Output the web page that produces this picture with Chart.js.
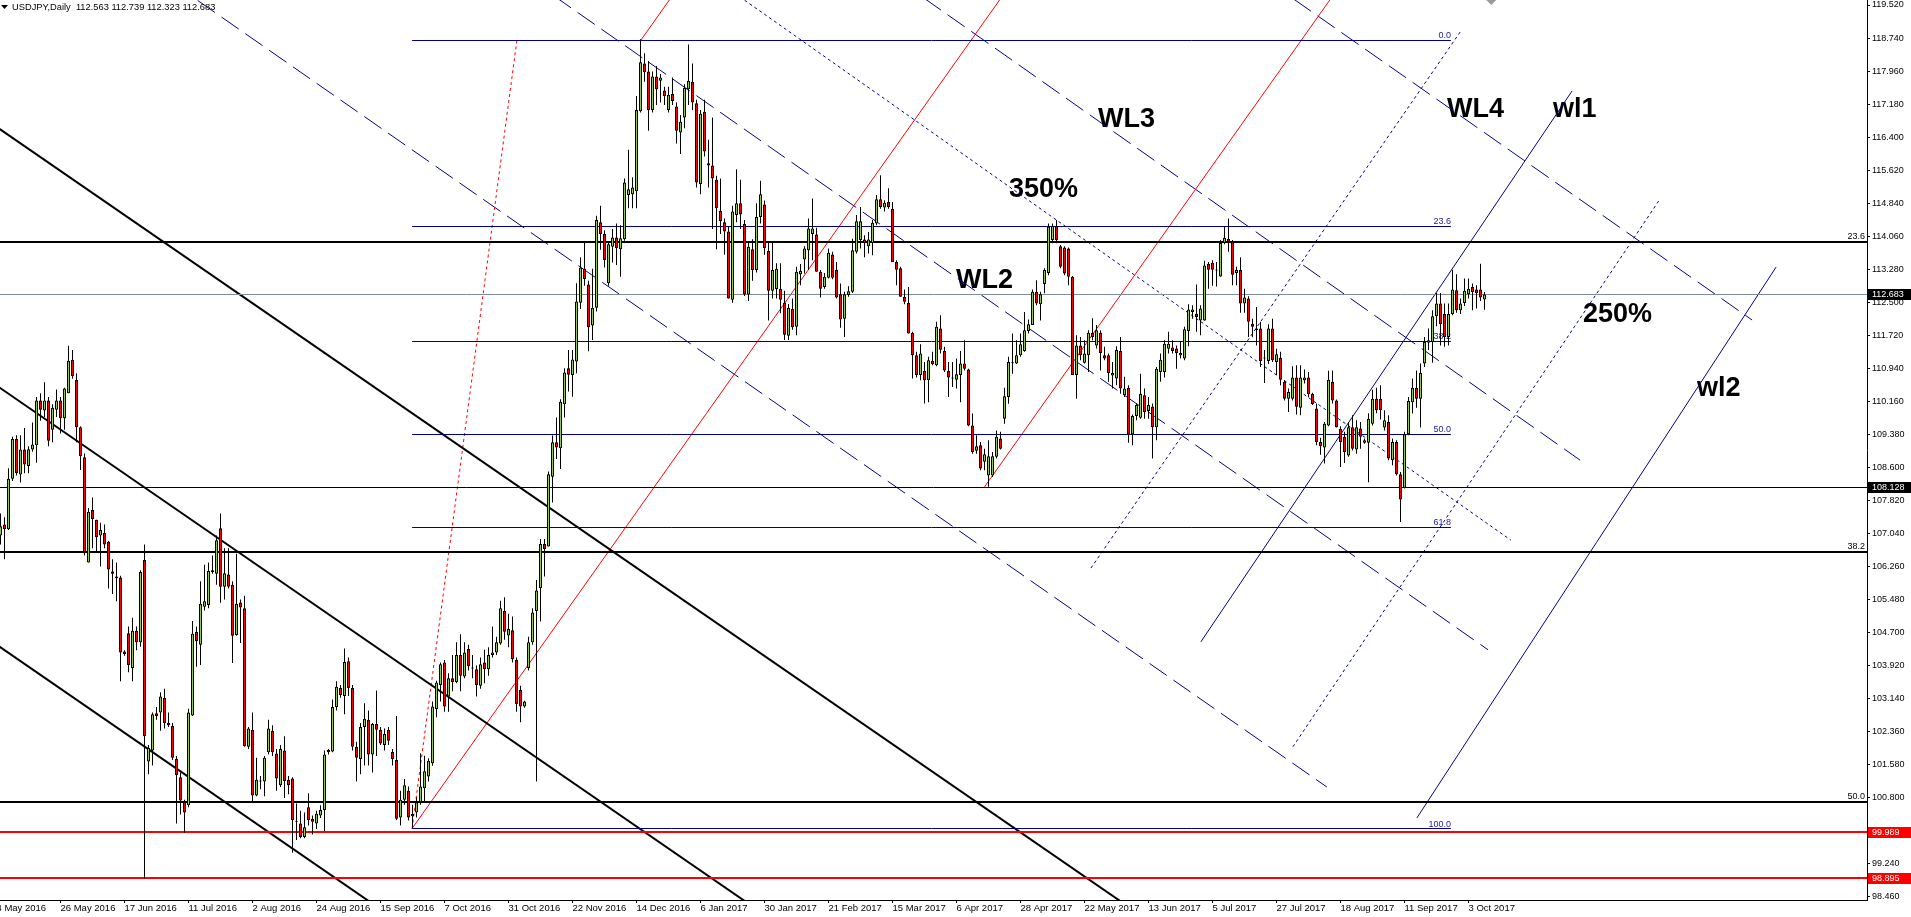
<!DOCTYPE html>
<html>
<head>
<meta charset="utf-8">
<script src="https://cdn.jsdelivr.net/npm/chart.js@4.4.1/dist/chart.umd.min.js"></script>
<style>
html,body{margin:0;padding:0;background:#fff;overflow:hidden}
#c{display:block;background:#fff}
</style>
</head>
<body>
<canvas id="c" width="1911" height="917"></canvas>
<script>
// ---------------- DATA ----------------
const symbolName = 'USDJPY,Daily';

const opens = [
106.99,107.25,107.14,108.33,109.27,108.43,109.02,108.63,109.02,109.12,
110.18,109.94,110.18,109.49,109.96,110.18,109.76,110.35,111.14,110.67,
109.55,108.84,106.35,107.59,107.36,106.99,107.05,106.84,106.14,106.02,
106.00,104.25,104.68,103.86,104.74,104.47,106.41,101.65,101.91,102.79,
102.81,103.16,102.57,102.49,101.71,101.28,100.70,100.62,102.74,104.71,
104.41,105.31,105.35,106.17,106.09,107.16,105.78,106.07,105.83,104.64,
105.41,105.27,102.00,102.40,100.85,101.20,101.18,101.87,102.38,101.84,
101.09,101.91,101.22,101.25,100.25,100.19,99.87,100.57,100.30,100.19,
100.38,100.51,101.93,101.89,102.94,103.39,103.20,104.02,103.39,102.00,
101.71,102.47,102.64,101.82,102.54,102.40,102.04,102.40,101.88,101.69,
100.33,100.75,100.96,100.41,100.45,100.69,101.02,101.30,101.61,102.89,
103.46,103.99,103.19,103.62,103.53,104.17,103.66,104.31,103.87,103.83,
103.44,103.99,103.83,104.17,104.23,104.44,105.21,104.63,104.75,104.05,
103.34,102.95,103.86,104.47,105.21,105.75,106.79,106.73,108.38,109.19,
109.05,110.09,110.94,110.78,111.10,112.49,113.29,112.92,111.95,112.37,
114.39,114.11,112.95,113.81,114.03,113.75,113.99,115.03,115.05,115.12,
117.01,118.14,117.95,117.04,117.83,117.73,117.50,117.04,117.42,117.12,
116.51,116.86,117.53,117.71,117.20,115.29,117.00,115.78,115.73,115.39,
114.66,114.39,114.17,112.56,114.56,114.84,114.35,112.68,113.75,113.26,
114.51,114.81,113.71,112.77,112.81,112.81,112.49,111.71,112.34,111.92,
113.16,113.51,113.73,114.11,114.10,113.22,112.86,113.08,113.63,113.27,
112.69,112.11,112.67,112.75,113.69,113.97,113.98,113.82,113.90,114.36,
114.93,114.74,114.87,114.71,113.45,113.30,112.63,112.49,111.78,111.25,
110.78,110.88,110.66,111.12,111.01,111.88,111.35,110.88,110.72,110.67,
110.78,111.05,110.91,109.59,108.99,109.12,108.73,108.41,108.41,108.85,
109.28,109.75,110.26,111.06,111.05,111.25,111.35,111.82,111.96,112.75,
112.45,112.93,113.19,113.97,114.30,113.82,113.79,113.77,113.10,110.78,
111.48,111.07,111.25,111.78,111.48,111.78,111.25,111.25,110.77,110.70,
111.35,110.30,110.48,109.38,109.81,109.77,110.30,109.93,110.04,109.55,
110.85,110.85,111.40,111.43,111.41,111.25,111.17,111.82,112.27,112.23,
112.07,112.07,113.41,113.43,113.27,113.11,113.90,114.00,113.93,113.19,
113.26,112.47,112.59,111.99,111.88,111.88,111.19,111.11,111.88,111.09,
111.19,110.62,110.22,110.22,110.72,110.01,110.66,110.72,110.33,109.99,
109.20,109.07,109.59,110.62,110.18,109.51,109.32,108.88,109.55,109.02,
109.52,109.18,109.18,109.63,110.22,110.22,109.54,109.67,108.77,109.20,
108.44,108.12,109.38,110.14,110.48,110.22,111.05,111.54,111.56,112.17,
112.47,112.22,111.68,112.22,112.78,112.31,112.48,112.69,112.86,112.80,
112.80,112.563];

const highs = [
107.51,107.42,108.58,109.32,109.36,109.36,109.53,109.10,109.66,110.26,
110.35,110.61,110.26,110.09,110.44,110.26,110.48,111.47,111.37,110.82,
109.57,108.93,107.64,107.89,107.36,107.29,107.25,106.86,106.43,106.35,
106.04,104.28,104.84,105.05,104.84,106.17,106.78,102.04,102.81,102.94,
103.29,103.37,102.81,102.56,101.78,101.39,100.75,102.90,104.97,104.84,
105.91,106.30,106.35,106.52,106.99,107.51,106.69,106.69,105.91,106.56,
105.48,105.57,102.47,102.81,101.74,101.31,101.78,102.64,102.51,101.95,
102.04,102.25,101.31,101.28,100.66,100.49,100.45,100.90,100.38,100.49,
100.62,101.91,101.95,103.12,103.55,103.46,104.32,104.11,103.46,102.12,
102.56,103.03,102.86,102.56,103.33,102.47,102.43,102.47,101.95,102.73,
100.96,101.24,101.06,100.63,100.81,101.85,101.79,101.73,103.07,103.56,
103.99,104.05,103.74,104.17,104.47,104.66,104.47,104.41,104.17,103.92,
104.11,104.29,104.35,104.84,104.60,105.45,105.53,105.14,105.08,104.11,
103.44,103.09,104.60,105.27,105.94,106.91,106.91,108.50,109.35,109.78,
110.21,110.94,111.37,111.37,112.95,113.56,113.93,113.01,113.29,114.54,
114.78,114.20,113.93,114.23,114.36,114.32,115.42,116.10,115.45,117.37,
118.71,118.38,118.20,117.95,118.08,117.89,117.59,117.59,117.81,117.22,
116.92,117.65,118.59,118.14,117.28,117.04,117.28,116.34,116.86,115.49,
115.42,114.48,114.29,114.78,115.64,115.39,114.44,113.93,113.99,114.84,
115.37,114.90,113.93,113.93,113.42,113.42,112.77,112.46,112.59,113.34,
113.40,113.82,114.48,114.95,114.26,113.26,113.19,113.77,113.69,113.45,
112.94,112.75,112.88,114.00,114.56,114.75,114.08,114.16,114.44,115.03,
115.50,114.91,115.19,114.87,113.49,113.34,112.80,112.86,111.80,111.33,
111.51,111.09,111.21,111.33,112.04,112.19,111.45,111.09,111.09,111.17,
111.35,111.60,110.93,109.87,109.36,109.20,109.04,109.24,108.96,109.47,
109.44,110.48,111.21,111.76,111.60,111.76,112.27,112.09,112.80,113.02,
112.75,113.30,114.36,114.36,114.44,113.85,113.82,113.79,113.12,111.72,
111.68,111.60,111.84,112.12,111.96,111.84,111.45,111.29,111.09,111.46,
111.68,110.74,110.54,109.85,110.11,110.81,110.46,110.26,110.11,110.97,
111.29,111.60,111.80,111.60,111.48,111.56,111.92,112.45,112.43,112.92,
112.43,113.48,113.45,113.49,113.45,113.97,114.28,114.48,113.97,113.34,
113.56,112.82,112.64,112.11,112.39,112.04,111.37,111.98,112.11,111.40,
111.33,110.66,110.46,110.99,111.01,111.01,110.91,110.85,110.36,110.11,
109.30,109.67,110.88,110.89,110.20,109.57,109.44,109.67,109.83,109.71,
109.67,109.28,109.88,110.43,110.48,110.54,109.95,109.83,109.28,109.24,
108.49,109.44,110.26,110.70,110.89,111.05,111.68,111.88,112.31,112.72,
112.72,112.47,112.47,113.27,113.16,112.59,113.06,113.06,112.94,112.90,
113.41,112.739];

const lows = [
106.78,106.43,107.12,108.28,108.41,108.24,108.46,108.46,108.97,108.71,
109.70,109.79,109.10,109.19,109.79,109.40,109.49,110.35,110.69,109.19,
108.54,106.52,106.35,106.69,106.60,106.26,106.69,105.74,105.61,105.44,
103.55,104.15,103.76,103.55,104.28,104.36,98.89,101.35,101.56,102.64,
102.38,102.43,102.47,101.69,100.19,100.40,99.97,100.57,102.73,103.89,
103.93,105.22,105.27,106.09,105.83,105.40,105.48,105.74,103.98,104.62,
104.45,102.00,101.95,100.70,100.83,101.00,100.83,101.82,101.78,100.96,
101.05,100.79,100.88,99.50,99.80,99.84,99.84,100.14,99.93,100.06,
100.32,100.01,101.82,101.87,102.86,103.16,102.77,103.20,101.91,101.18,
101.35,101.56,101.56,101.39,101.78,102.04,101.91,102.04,101.56,100.27,
100.14,100.63,100.26,100.08,100.33,100.63,100.69,101.18,101.55,102.70,
103.07,102.83,102.83,103.31,103.50,103.31,103.62,103.80,103.62,103.19,
103.37,103.50,103.68,104.11,104.17,104.41,104.53,104.35,103.99,102.83,
102.58,102.92,103.80,104.41,101.18,104.96,106.02,106.73,107.77,108.80,
108.56,109.78,110.39,110.27,110.82,112.34,112.89,111.34,111.61,112.28,
113.74,113.32,112.89,113.44,113.38,113.10,113.95,114.72,114.72,114.72,
116.98,117.71,116.55,116.98,117.16,117.22,117.16,116.98,117.16,116.25,
116.00,116.61,117.16,117.04,115.21,115.05,115.94,115.21,114.23,113.75,
114.11,113.62,112.59,112.49,114.39,114.23,112.65,112.53,113.01,113.20,
114.36,113.62,112.07,112.59,112.59,112.24,111.61,111.61,111.85,111.72,
112.90,113.18,113.26,113.49,113.22,112.61,112.82,113.06,113.04,112.59,
111.90,111.68,112.63,112.72,113.65,113.77,113.56,113.65,113.61,114.32,
114.71,114.64,114.71,113.45,112.90,112.63,112.45,111.76,110.70,110.72,
110.66,110.11,110.14,111.01,110.99,111.29,110.85,110.26,110.50,110.46,
110.14,110.89,109.57,108.92,108.92,108.53,108.53,108.14,108.37,108.81,
109.02,109.63,110.10,110.81,111.04,111.21,111.33,111.76,111.96,112.43,
112.07,112.71,113.14,113.89,113.89,113.30,113.14,112.90,110.78,110.22,
111.13,111.05,110.85,111.60,111.41,110.89,111.13,110.62,110.46,110.54,
110.34,110.26,109.18,109.12,109.71,109.75,109.75,109.75,108.81,109.24,
110.62,110.72,111.29,111.29,110.93,111.17,111.13,111.46,112.11,111.80,
111.72,112.06,112.82,112.89,112.87,113.10,113.87,113.69,112.90,112.90,
112.25,112.25,111.68,111.67,111.48,110.97,110.59,111.04,111.09,110.78,
110.54,110.18,109.91,110.18,109.85,109.83,110.58,110.26,110.07,109.12,
108.90,108.69,109.57,110.11,109.54,108.61,108.70,108.85,109.00,108.92,
109.04,109.16,108.25,109.59,109.88,109.73,109.47,108.77,108.65,108.41,
107.31,108.10,109.36,109.87,110.01,109.54,110.97,111.37,111.07,111.93,
111.48,111.45,111.48,112.19,112.25,112.22,112.41,112.59,112.31,112.35,
112.53,112.323];

const closes = [
107.21,107.14,108.33,109.27,108.46,109.02,108.67,109.03,109.14,110.18,
109.96,110.18,109.23,110.01,110.18,109.76,110.46,111.12,110.75,109.55,
108.86,106.60,107.55,107.38,106.95,107.12,106.78,106.19,106.09,105.98,
104.23,104.19,103.93,104.74,104.47,106.13,102.25,101.97,102.77,102.73,
103.19,102.56,102.51,101.74,101.33,100.73,100.45,102.81,104.67,104.49,
105.38,105.44,106.15,106.13,106.88,105.78,106.10,105.78,104.62,105.38,
105.29,102.02,102.43,100.85,101.22,101.18,101.74,102.43,101.87,101.25,
101.95,101.19,101.09,100.27,100.23,99.87,100.10,100.27,100.23,100.42,
100.51,101.82,101.87,102.94,103.42,103.22,104.00,103.39,102.00,101.74,
102.47,102.66,101.82,102.54,102.40,102.08,102.30,102.14,101.71,100.30,
100.75,101.09,100.33,100.36,100.69,101.06,101.42,101.67,102.95,103.52,
103.95,102.95,103.62,103.53,104.17,103.68,104.23,103.90,103.85,103.46,
103.95,103.83,104.17,104.23,104.47,105.27,104.72,104.78,104.07,103.01,
102.95,103.07,104.47,105.17,105.69,106.79,106.67,108.44,109.19,109.07,
110.15,110.84,110.79,111.15,112.52,113.32,113.05,111.91,112.37,114.44,
114.11,113.50,113.87,114.03,113.78,114.01,115.33,115.17,115.21,117.04,
118.17,117.93,117.04,117.83,117.53,117.81,117.37,117.40,117.25,116.55,
116.76,117.56,117.73,117.22,115.33,116.95,116.06,115.73,115.42,114.72,
114.42,114.17,112.59,114.64,114.84,114.57,112.68,113.81,113.26,114.51,
115.05,113.78,112.77,113.26,113.29,112.56,111.73,112.37,111.91,113.22,
113.24,113.77,114.24,114.24,113.22,112.82,113.10,113.67,113.08,112.61,
112.09,112.69,112.76,113.73,114.41,114.41,113.89,113.98,114.38,114.93,
114.75,114.85,114.75,113.45,113.27,112.63,112.51,111.76,111.25,110.78,
111.29,110.66,111.13,111.04,111.92,111.38,110.89,110.72,110.70,110.80,
111.05,110.93,109.59,108.96,109.10,108.57,108.91,108.86,108.86,109.32,
109.04,110.28,111.09,111.07,111.25,111.51,111.84,111.98,112.75,112.47,
112.69,113.26,114.28,114.30,113.97,113.34,113.18,113.10,110.78,111.48,
111.25,111.29,111.78,111.68,111.84,111.30,111.17,110.83,110.83,111.37,
110.46,110.46,109.38,109.81,110.07,110.33,109.91,110.07,109.55,110.93,
111.14,111.52,111.52,111.35,111.30,111.30,111.86,112.33,112.33,112.15,
112.35,113.37,113.27,113.27,113.25,113.90,114.02,113.93,113.15,113.27,
112.47,112.61,112.04,111.92,111.84,111.11,111.17,111.88,111.13,111.27,
110.67,110.22,110.38,110.72,110.03,110.72,110.72,110.33,110.09,109.20,
109.10,109.63,110.67,110.18,109.55,109.20,108.96,109.55,109.04,109.55,
109.32,109.24,109.75,110.22,109.95,109.95,109.71,108.81,109.20,108.44,
107.84,109.38,110.17,110.48,110.22,110.83,111.56,111.60,112.17,112.47,
111.98,111.68,112.22,112.80,112.31,112.47,112.77,112.82,112.74,112.71,
112.61,112.683];

// time-axis labels (bar index of each label)
const xTickIndex = [-1,15,31,47,63,79,95,111,127,143,159,175,191,207,223,239,255,271,287,303,319,335,351,367];
const xTickLabels = ['4 May 2016','26 May 2016','17 Jun 2016','11 Jul 2016','2 Aug 2016','24 Aug 2016',
  '15 Sep 2016','7 Oct 2016','31 Oct 2016','22 Nov 2016','14 Dec 2016','6 Jan 2017','30 Jan 2017',
  '21 Feb 2017','15 Mar 2017','6 Apr 2017','28 Apr 2017','22 May 2017','13 Jun 2017','5 Jul 2017',
  '27 Jul 2017','18 Aug 2017','11 Sep 2017','3 Oct 2017'];

// price-axis labels
const yTickValues = [98.46,99.24,100.02,100.80,101.58,102.36,103.14,103.92,104.70,105.48,106.26,107.04,
  107.82,108.60,109.38,110.16,110.94,111.72,112.50,113.28,114.06,114.84,115.62,116.40,117.18,117.96,118.74,119.52];

// Fibonacci retracement (blue, short) and (black, long)
const blueFibLevels = [118.69,114.30,111.58,109.38,107.18,100.07];
const blueFibNames  = ['0.0','23.6','38.2','50.0','61.8','100.0'];
const blueFibRange  = [102.9,362.6];
const blackFibLevels = [113.93,106.61,100.70];
const blackFibNames  = ['23.6','38.2','50.0'];

// horizontal price lines
const supportLine = 108.128;
const redLines = [99.989,98.895];

// trend lines: [[barIndex, price],[barIndex, price]]
const blackChannelTop = [[-10,117.23],[300,97.05]];
const blackChannelMid = [[-10,111.12],[300,90.94]];
const blackChannelLow = [[-10,105.00],[300,84.82]];
const redFork1 = [[102.9,100.07],[260,121.00]];
const redFork2 = [[160.1,118.69],[180,121.34]];
const redFork3 = [[246,108.14],[340,120.66]];
const redSteep = [[102.9,100.07],[129.1,118.69]];
const dashLine1 = [[37.4,120.41],[331.6,101.05]];
const dashLine2 = [[132.4,120.13],[371.9,104.29]];
const dashLine3 = [[224.9,120.08],[394.9,108.77]];
const dashLine4 = [[317.4,120.05],[437.9,112.08]];
const dotLine350 = [[179.9,120.04],[377.6,106.88]];
const dotUp1 = [[272.6,106.22],[364.9,118.88]];
const dotUp250 = [[323.1,102.00],[414.9,114.94]];
const wl1Line = [[300.1,104.48],[392.9,117.49]];
const wl2Line = [[354.1,100.32],[443.9,113.33]];

// text notes
const noteTexts = ['WL3','WL4','wl1','350%','WL2','250%','wl2'];
const noteIndex = [274.4,361.6,388.1,252.1,238.9,395.6,424.1];
const notePrice = [116.64,116.875,116.875,114.985,112.836,112.033,110.285];

// ---------------- STYLE / LAYOUT ----------------
const W = 1911, H = 917;
const PLOT_W = 1867, AXIS_W = W - PLOT_W, XAXIS_H = 17;
const BAR_PX = 4;
const XMIN = -0.125, XMAX = XMIN + PLOT_W / BAR_PX;
const PX_PER_UNIT = 42.34;
const YMAX = 119.52 + 5 / PX_PER_UNIT;
const YMIN = 119.52 - (H - XAXIS_H - 5) / PX_PER_UNIT;
const FONT = '"Liberation Sans", Arial, sans-serif';
const BLUE = '#000088', RED = '#ff0000', UP = '#9acd32', DOWN = '#ff0000', GRAY = '#7f8c99';
const DASH = [21,8], DOT = [3,3];

const last = closes.length - 1;
const currentPrice = closes[last];

function seg(pts, color, width, dash, snap) {
  return {
    type: 'line',
    data: pts.map(p => ({x: p[0], y: p[1]})),
    borderColor: color, borderWidth: width, borderDash: dash || [],
    pointRadius: 0, pointHoverRadius: 0, fill: false, tension: 0,
    order: 5, clip: 0, borderCapStyle: 'butt', snapY: snap
  };
}
function hline(v, x0, x1, color, width) { return seg([[x0, v],[x1, v]], color, width, null, v); }

const datasets = [];
// candles (bodies on top, wicks below)
datasets.push({
  type: 'bar', label: 'body',
  data: opens.map((o, i) => ({x: i, y: [o, closes[i]]})),
  backgroundColor: ctx => {
    const i = ctx.dataIndex; return closes[i] >= opens[i] ? UP : DOWN;
  },
  borderColor: '#000', borderWidth: 1, borderSkipped: false,
  barThickness: 3, minBarLength: 1, grouped: false, inflateAmount: 0, order: 1, clip: 0
});
datasets.push({
  type: 'bar', label: 'wick',
  data: opens.map((o, i) => ({x: i, y: [lows[i], highs[i]]})),
  backgroundColor: '#000', borderWidth: 0,
  barThickness: 1, grouped: false, inflateAmount: 0, order: 2, clip: 0
});
// horizontal levels
blueFibLevels.forEach(v => datasets.push(hline(v, blueFibRange[0], blueFibRange[1], BLUE, 1)));
blackFibLevels.forEach(v => datasets.push(hline(v, XMIN - 2, XMAX + 2, '#000', 2)));
datasets.push(hline(supportLine, XMIN - 2, XMAX + 2, '#000', 1));
redLines.forEach(v => datasets.push(hline(v, XMIN - 2, XMAX + 2, RED, 2)));
datasets.push(hline(currentPrice, XMIN - 2, XMAX + 2, GRAY, 1));
// trend lines
[blackChannelTop, blackChannelMid, blackChannelLow].forEach(l => datasets.push(seg(l, '#000', 2)));
[redFork1, redFork2, redFork3].forEach(l => datasets.push(seg(l, RED, 1)));
datasets.push(seg(redSteep, RED, 1, DOT));
[dashLine1, dashLine2, dashLine3, dashLine4].forEach(l => datasets.push(seg(l, BLUE, 1, DASH)));
[dotLine350, dotUp1, dotUp250].forEach(l => datasets.push(seg(l, BLUE, 1, DOT)));
[wl1Line, wl2Line].forEach(l => datasets.push(seg(l, BLUE, 1)));

const overlay = {
  id: 'overlay',
  beforeDatasetDraw(chart, args) {
    const ds = chart.data.datasets[args.index];
    if (ds.snapY === undefined || ds.snapY === null) return;
    const py = chart.scales.y.getPixelForValue(ds.snapY);
    const target = (ds.borderWidth % 2 === 1) ? Math.floor(py) + 0.5 : Math.round(py);
    chart.ctx.save();
    chart.ctx.translate(0, target - py);
    ds._snapped = true;
  },
  afterDatasetDraw(chart, args) {
    const ds = chart.data.datasets[args.index];
    if (ds._snapped) { chart.ctx.restore(); ds._snapped = false; }
  },
  beforeDatasetsDraw(chart) {
    const {ctx, chartArea: a, scales: {x, y}} = chart;
    ctx.save();
    ctx.beginPath(); ctx.rect(a.left, a.top, a.right - a.left, a.bottom - a.top); ctx.clip();
    // notes
    ctx.font = 'bold 27px ' + FONT;
    ctx.fillStyle = '#000';
    ctx.textAlign = 'left'; ctx.textBaseline = 'alphabetic';
    noteTexts.forEach((t, k) => ctx.fillText(t, x.getPixelForValue(noteIndex[k]), y.getPixelForValue(notePrice[k])));
    // fib labels
    ctx.font = '9px ' + FONT;
    ctx.textAlign = 'right';
    ctx.fillStyle = '#1a1aa0';
    blueFibLevels.forEach((v, k) => ctx.fillText(blueFibNames[k], x.getPixelForValue(blueFibRange[1]), y.getPixelForValue(v) - 2));
    ctx.fillStyle = '#000';
    blackFibLevels.forEach((v, k) => ctx.fillText(blackFibNames[k], a.right - 2, y.getPixelForValue(v) - 3));
    ctx.restore();
  },
  afterDraw(chart) {
    const {ctx, scales: {x, y}} = chart;
    ctx.save();
    // price boxes on the axis
    const boxes = [[currentPrice, '#000'], [supportLine, '#000'], [redLines[0], RED], [redLines[1], RED]];
    ctx.font = '9px ' + FONT;
    ctx.textAlign = 'left'; ctx.textBaseline = 'middle';
    boxes.forEach(([v, col]) => {
      const py = Math.round(y.getPixelForValue(v));
      ctx.fillStyle = col;
      ctx.fillRect(y.left + 1, py - 5, W - y.left - 1, 11);
      ctx.fillStyle = '#fff';
      ctx.fillText(v.toFixed(3), y.left + 5, py + 0.5);
    });
    // header
    ctx.fillStyle = '#000';
    ctx.beginPath(); ctx.moveTo(1, 5); ctx.lineTo(8, 5); ctx.lineTo(4.5, 9); ctx.closePath(); ctx.fill();
    ctx.textBaseline = 'alphabetic';
    ctx.font = '9.3px ' + FONT;
    ctx.fillText(symbolName + '  ' + [opens[last], highs[last], lows[last], closes[last]].map(v => v.toFixed(3)).join(' '), 12, 10);
    // chart shift marker
    ctx.fillStyle = '#9a9a9a';
    const sx = x.getPixelForValue(last + 1.7);
    ctx.beginPath(); ctx.moveTo(sx - 5, 0); ctx.lineTo(sx + 5, 0); ctx.lineTo(sx, 5); ctx.closePath(); ctx.fill();
    ctx.restore();
  }
};

new Chart(document.getElementById('c'), {
  type: 'bar',
  data: { datasets },
  options: {
    responsive: false, animation: false, devicePixelRatio: 1,
    events: [],
    layout: { padding: 0 },
    plugins: { legend: {display: false}, tooltip: {enabled: false} },
    scales: {
      x: {
        type: 'linear', min: XMIN, max: XMAX, offset: false,
        grid: { display: true, drawOnChartArea: false, drawTicks: true, tickLength: 3, color: '#000', offset: false },
        border: { display: true, color: '#000', width: 1 },
        ticks: {
          autoSkip: false, maxRotation: 0, minRotation: 0, align: 'start', padding: 0,
          color: '#000', font: { family: FONT, size: 9.5 },
          callback: (v, idx) => xTickLabels[idx]
        },
        afterBuildTicks: s => { s.ticks = xTickIndex.map(v => ({value: v})); },
        afterFit: s => { s.height = XAXIS_H; s.paddingLeft = 0; s.paddingRight = 0; }
      },
      y: {
        type: 'linear', position: 'right', min: YMIN, max: YMAX,
        grid: { display: true, drawOnChartArea: false, drawTicks: true, tickLength: 3, color: '#000' },
        border: { display: true, color: '#000', width: 1 },
        ticks: {
          autoSkip: false, padding: 2, color: '#000', font: { family: FONT, size: 9 },
          callback: v => Number(v).toFixed(3)
        },
        afterBuildTicks: s => { s.ticks = yTickValues.map(v => ({value: v})); },
        afterFit: s => { s.width = AXIS_W; s.paddingTop = 0; s.paddingBottom = 0; }
      }
    }
  },
  plugins: [overlay]
});
</script>
</body>
</html>
